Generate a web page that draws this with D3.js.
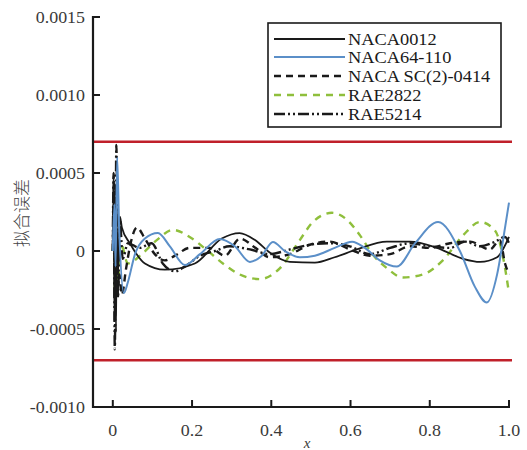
<!DOCTYPE html>
<html>
<head>
<meta charset="utf-8">
<script src="https://cdn.jsdelivr.net/npm/d3@7"></script>
<style>
  body { margin: 0; background: #fff; }
  svg text.serif { font-family: "Liberation Serif", "Times New Roman", Tinos, FreeSerif !important; }
</style>
</head>
<body>
<svg id="chart" width="527" height="450"></svg>
<script>
// y values are in units of 1e-4
const seriesNames = ["NACA0012", "NACA64-110", "NACA SC(2)-0414", "RAE2822", "RAE5214"];

const xNaca0012 = [0, 0.002, 0.004, 0.006, 0.008, 0.010, 0.013, 0.018, 0.023, 0.043, 0.081, 0.131, 0.207, 0.275, 0.32, 0.359, 0.396, 0.447, 0.51, 0.56, 0.616, 0.692, 0.75, 0.818, 0.884, 0.927, 0.97, 1.0];
const yNaca0012 = [0, 4.8, -4.5, 3.5, -5.2, 2.0, -1.5, 2.2, 1.5, 0.5, -0.8, -1.2, -0.8, 0.8, 1.15, 0.7, -0.1, -0.7, -0.75, -0.4, 0.1, 0.6, 0.6, 0.2, -0.5, -0.7, -0.4, 0.9];

const xNaca64 = [0, 0.004, 0.007, 0.011, 0.016, 0.028, 0.038, 0.056, 0.081, 0.114, 0.144, 0.182, 0.22, 0.27, 0.308, 0.346, 0.376, 0.404, 0.434, 0.472, 0.51, 0.56, 0.604, 0.636, 0.674, 0.717, 0.763, 0.821, 0.876, 0.914, 0.944, 0.97, 0.99, 1.0];
const yNaca64 = [0, 3.0, -1.0, 6.0, 1.5, -2.7, -2.0, -0.2, 0.8, 1.15, 0.3, -0.9, -0.2, 0.77, 0.3, -0.7, -0.3, 0.58, 0.0, -0.4, -0.3, 0.2, 0.6, 0.2, -0.6, -1.0, 0.5, 1.86, 0.0, -2.3, -3.3, -1.5, 1.5, 3.1];

const xSc0414 = [0, 0.003, 0.006, 0.009, 0.012, 0.017, 0.023, 0.033, 0.045, 0.061, 0.081, 0.106, 0.131, 0.157, 0.194, 0.245, 0.283, 0.321, 0.36, 0.396, 0.447, 0.497, 0.548, 0.598, 0.649, 0.7, 0.75, 0.8, 0.851, 0.902, 0.952, 0.977, 0.99, 1.0];
const ySc0414 = [0, 4.5, -3.5, 3.0, -2.5, -1.5, -2.8, -1.2, 0.5, 1.5, 0.8, -0.2, -0.6, -0.3, 0.2, 0.2, -0.3, 0.8, 0.2, -0.4, -0.2, 0.4, 0.6, 0.1, -0.3, -0.2, 0.3, 0.2, 0.5, 0.6, 0.1, 0.7, -0.8, -1.5];

const xRae2822 = [0, 0.003, 0.006, 0.009, 0.013, 0.02, 0.038, 0.073, 0.111, 0.152, 0.2, 0.24, 0.278, 0.32, 0.371, 0.422, 0.472, 0.505, 0.553, 0.591, 0.624, 0.657, 0.692, 0.732, 0.783, 0.833, 0.884, 0.927, 0.965, 0.985, 1.0];
const yRae2822 = [0, 0.7, -3.0, 1.0, -2.0, 0.5, -0.8, -0.2, 0.7, 1.35, 0.8, 0.0, -0.8, -1.5, -1.8, -1.1, 0.7, 1.86, 2.45, 2.0, 1.0, -0.26, -1.1, -1.7, -1.5, -0.6, 1.0, 1.86, 1.3, -0.4, -2.7];

const xRae5214 = [0, 0.002, 0.005, 0.009, 0.013, 0.018, 0.025, 0.038, 0.068, 0.098, 0.126, 0.157, 0.182, 0.22, 0.258, 0.295, 0.346, 0.396, 0.447, 0.497, 0.548, 0.598, 0.649, 0.7, 0.75, 0.8, 0.851, 0.889, 0.927, 0.965, 0.99, 1.0];
const yRae5214 = [0, 5.0, -6.3, 6.8, -3.0, 2.0, -0.5, 0.5, 0.2, 0.5, -0.8, -1.3, -1.0, -0.3, 0.0, 0.3, 0.1, -0.2, 0.1, 0.4, 0.5, 0.3, -0.2, 0.2, 0.5, 0.3, 0.2, 0.6, 0.3, 0.6, 0.9, 0.5];

const limitValue = 0.0007;
const xTicks = [0, 0.2, 0.4, 0.6, 0.8, 1.0];
const xTickLabels = ["0", "0.2", "0.4", "0.6", "0.8", "1.0"];
const yTicks = [-0.0010, -0.0005, 0, 0.0005, 0.0010, 0.0015];
const yTickLabels = ["-0.0010", "-0.0005", "0", "0.0005", "0.0010", "0.0015"];

const svg = d3.select("#chart");

const x = d3.scaleLinear().domain([-0.05, 1.0]).range([93, 509]);
const y = d3.scaleLinear().domain([-0.0010, 0.0015]).range([407, 17]);

const series = [
  { name: seriesNames[0], xs: xNaca0012, ys: yNaca0012, color: "#1a1a1a", width: 1.8, dash: null },
  { name: seriesNames[1], xs: xNaca64, ys: yNaca64, color: "#5b8fc8", width: 2, dash: null },
  { name: seriesNames[2], xs: xSc0414, ys: ySc0414, color: "#1a1a1a", width: 2.4, dash: "7,5" },
  { name: seriesNames[3], xs: xRae2822, ys: yRae2822, color: "#8fbf3c", width: 2.4, dash: "7,6" },
  { name: seriesNames[4], xs: xRae5214, ys: yRae5214, color: "#1a1a1a", width: 2.4, dash: "11,3,2,3,2,3" },
];

const line = d3.line()
  .x(d => x(d[0]))
  .y(d => y(d[1] * 1e-4))
  .curve(d3.curveMonotoneX);

// limit lines
svg.append("g")
  .selectAll("line")
  .data([limitValue, -limitValue])
  .join("line")
  .attr("x1", x(-0.05))
  .attr("x2", 512)
  .attr("y1", d => y(d))
  .attr("y2", d => y(d))
  .attr("stroke", "#c0202a")
  .attr("stroke-width", 2.5);

// curves (draw lower ones first)
const order = [3, 4, 2, 0, 1];
svg.append("g")
  .selectAll("path")
  .data(order.map(i => series[i]))
  .join("path")
  .attr("d", s => line(s.xs.map((v, i) => [v, s.ys[i]])))
  .attr("fill", "none")
  .attr("stroke", s => s.color)
  .attr("stroke-width", s => s.width)
  .attr("stroke-dasharray", s => s.dash || "none")
  .attr("stroke-linejoin", "round");

// axes
const axisColor = "#1a1a1a";
const labelColor = "#3a3a3a";

svg.append("line")
  .attr("x1", 93).attr("x2", 93)
  .attr("y1", y(0.0015) - 1).attr("y2", 408)
  .attr("stroke", axisColor).attr("stroke-width", 2.2);
svg.append("line")
  .attr("x1", 92).attr("x2", x(1.0) + 1)
  .attr("y1", 407).attr("y2", 407)
  .attr("stroke", axisColor).attr("stroke-width", 2.2);

// y ticks (inward)
svg.append("g")
  .selectAll("line")
  .data(yTicks)
  .join("line")
  .attr("x1", 93).attr("x2", 100)
  .attr("y1", d => y(d)).attr("y2", d => y(d))
  .attr("stroke", axisColor).attr("stroke-width", 2);

// tick labels, horizontally widened like the source
svg.append("g")
  .selectAll("text")
  .data(yTicks)
  .join("text")
  .attr("class", "serif")
  .attr("transform", d => `translate(85,${y(d) + 5.5}) scale(1.12,1)`)
  .attr("text-anchor", "end")
  .attr("font-size", 16)
  .attr("fill", labelColor)
  .text((d, i) => yTickLabels[i]);

// x ticks (inward)
svg.append("g")
  .selectAll("line")
  .data(xTicks)
  .join("line")
  .attr("x1", d => x(d)).attr("x2", d => x(d))
  .attr("y1", 407).attr("y2", 400)
  .attr("stroke", axisColor).attr("stroke-width", 2);

svg.append("g")
  .selectAll("text")
  .data(xTicks)
  .join("text")
  .attr("class", "serif")
  .attr("transform", d => `translate(${x(d)},436) scale(1.12,1)`)
  .attr("text-anchor", "middle")
  .attr("font-size", 16)
  .attr("fill", labelColor)
  .text((d, i) => xTickLabels[i]);

// axis titles
svg.append("text")
  .attr("class", "serif")
  .attr("x", 307)
  .attr("y", 448)
  .attr("text-anchor", "middle")
  .attr("font-size", 15)
  .style("font-style", "italic")
  .attr("fill", labelColor)
  .text("x");

svg.append("text")
  .attr("transform", "translate(28,213) rotate(-90)")
  .attr("text-anchor", "middle")
  .style("font-family", '"Noto Sans CJK SC"')
  .style("font-weight", 300)
  .attr("font-size", 17)
  .attr("fill", "#444")
  .text("拟合误差");

// legend
const legend = svg.append("g");
legend.append("rect")
  .attr("x", 268).attr("y", 23)
  .attr("width", 233).attr("height", 104)
  .attr("fill", "#fff")
  .attr("stroke", axisColor)
  .attr("stroke-width", 1.6);

const legRowY = [39, 57, 76, 95, 114];
const rows = legend.selectAll("g.row")
  .data(series)
  .join("g")
  .attr("class", "row")
  .attr("transform", (d, i) => `translate(0,${legRowY[i]})`);

rows.append("line")
  .attr("x1", 274).attr("x2", 345)
  .attr("y1", 0).attr("y2", 0)
  .attr("stroke", d => d.color)
  .attr("stroke-width", d => d.width)
  .attr("stroke-dasharray", d => d.dash || "none");

rows.append("text")
  .attr("class", "serif")
  .attr("transform", "translate(348,6) scale(1.08,1)")
  .attr("font-size", 17)
  .attr("fill", "#1a1a1a")
  .text(d => d.name);
</script>
</body>
</html>
